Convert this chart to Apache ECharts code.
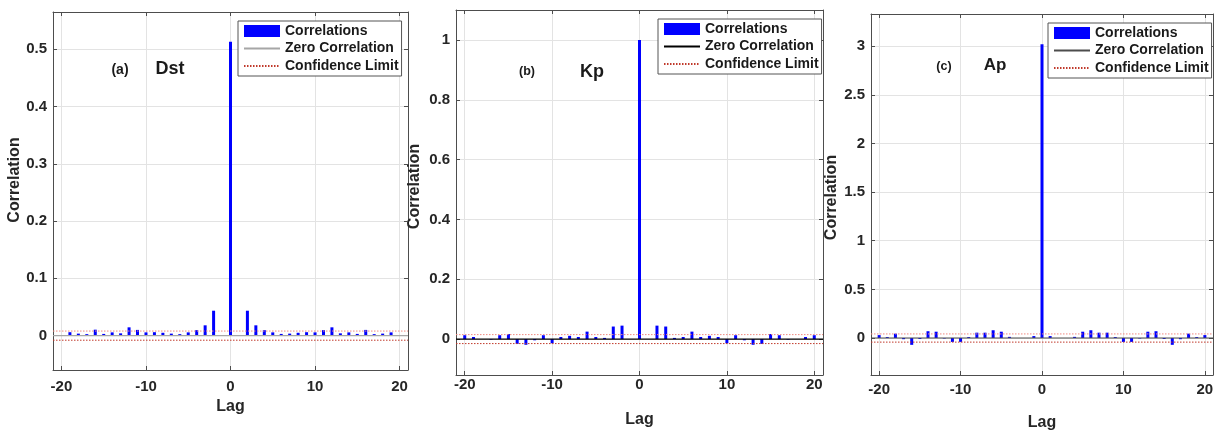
<!DOCTYPE html>
<html>
<head>
<meta charset="utf-8">
<script src="https://cdn.jsdelivr.net/npm/echarts@6/dist/echarts.min.js"></script>
<style>
  html, body { margin: 0; padding: 0; background: #fff; }
  #main { width: 1219px; height: 436px; }
</style>
</head>
<body>
<div id="main"></div>
<script>
  // lag values
  const lagsDst = [-19,-18,-17,-16,-15,-14,-13,-12,-11,-10,-9,-8,-7,-6,-5,-4,-3,-2,-1,0,
                   1,2,3,4,5,6,7,8,9,10,11,12,13,14,15,16,17,18,19];
  const lags20 = [-20,-19,-18,-17,-16,-15,-14,-13,-12,-11,-10,-9,-8,-7,-6,-5,-4,-3,-2,-1,0,
                  1,2,3,4,5,6,7,8,9,10,11,12,13,14,15,16,17,18,19,20];

  // correlations
  const dstCorr = [0.006,0.0035,0.0026,0.0104,0.003,0.0057,0.004,0.0145,0.010,0.0057,0.006,0.005,0.0035,0.0026,0.0057,0.0096,0.018,0.0435,0.001,0.513,
                   0.001,0.0435,0.018,0.0096,0.0057,0.003,0.0035,0.005,0.006,0.0057,0.0096,0.0145,0.004,0.0057,0.003,0.010,0.0026,0.0035,0.0057];
  const kpCorr = [0.013,0.007,0,-0.002,0.013,0.017,-0.016,-0.019,-0.004,0.013,-0.014,0.007,0.011,0.007,0.025,0.007,0.004,0.042,0.045,0,1.0,
                  0,0.045,0.042,0.004,0.007,0.025,0.007,0.011,0.007,-0.014,0.013,-0.004,-0.019,-0.016,0.017,0.013,-0.002,0,0.007,0.013];
  const apCorr = [0.03,0.01,0.045,-0.012,-0.07,-0.01,0.07,0.065,-0.005,-0.04,-0.04,0.01,0.055,0.055,0.08,0.065,0.012,0,0,0.02,3.02,
                  0.02,0,0,0.012,0.065,0.08,0.055,0.055,0.01,-0.04,-0.04,-0.005,0.065,0.07,-0.01,-0.07,-0.012,0.045,0.01,0.03];

  // confidence limits
  const confDst = 0.008;
  const confKp = 0.015;
  const confAp = 0.042;

  const xTicks = [-20, -10, 0, 10, 20];

  const panels = [
    { id: 'a', lags: lagsDst, vals: dstCorr, conf: confDst, ymin: -0.06, ymax: 0.565, split: 5,
      grid: { left: 53, top: 12, width: 355, height: 358 }, zero: '#a6a6a6',
      xMargin: 9, nameGapX: 27, nameGapY: 28, namePad: [0, 0, 0, 22], legend: { left: 238, top: 21 },
      tag: '(a)', tagX: 120, tagY: 70, tagSize: 14, title: 'Dst', titleX: 170, titleY: 69, titleSize: 18 },
    { id: 'b', lags: lags20, vals: kpCorr, conf: confKp, ymin: -0.12, ymax: 1.1, split: 5,
      grid: { left: 456, top: 10, width: 367, height: 365 }, zero: '#000000',
      xMargin: 2, nameGapX: 37, nameGapY: 33, namePad: [0, 0, 0, 12], legend: { left: 658, top: 19 },
      tag: '(b)', tagX: 527, tagY: 72, tagSize: 12.5, title: 'Kp', titleX: 592, titleY: 72, titleSize: 18 },
    { id: 'c', lags: lags20, vals: apCorr, conf: confAp, ymin: -0.38, ymax: 3.33, split: 8,
      grid: { left: 871, top: 14, width: 342, height: 364 }, zero: '#4d4d4d',
      xMargin: 7, nameGapX: 40, nameGapY: 31, namePad: [0, 6, 0, 0], legend: { left: 1048, top: 23 },
      tag: '(c)', tagX: 944, tagY: 67, tagSize: 12.5, title: 'Ap', titleX: 995, titleY: 65, titleSize: 17 }
  ];

  const font = 'Liberation Sans, Arial, sans-serif';
  const axisCol = '#4d4d4d';
  const gridCol = '#e3e3e3';
  const noSymbol = { color: 'rgba(0,0,0,0)', borderWidth: 0, opacity: 0 };

  const grids = [], xAxes = [], yAxes = [], series = [], legends = [], graphics = [];

  panels.forEach((p, i) => {
    grids.push(Object.assign({ containLabel: false }, p.grid));

    xAxes.push({
      type: 'value', gridIndex: i, position: 'bottom', min: -21, max: 21,
      name: 'Lag', nameLocation: 'middle', nameGap: p.nameGapX,
      nameTextStyle: { fontFamily: font, fontWeight: 'bold', fontSize: 16, color: '#262626' },
      axisLine: { show: true, onZero: false, lineStyle: { color: axisCol, width: 1 } },
      axisTick: { show: true, inside: true, length: 4, lineStyle: { color: axisCol } },
      axisLabel: { fontFamily: font, fontWeight: 'bold', fontSize: 15, color: '#262626',
                   margin: p.xMargin, showMinLabel: false, showMaxLabel: false,
                   formatter: v => (xTicks.indexOf(v) >= 0 ? String(v) : '') },
      splitLine: { show: true, lineStyle: { color: gridCol } }
    });
    xAxes.push({
      type: 'value', gridIndex: i, position: 'top', min: -21, max: 21,
      axisLine: { show: true, onZero: false, lineStyle: { color: axisCol, width: 1 } },
      axisTick: { show: true, inside: true, length: 4, lineStyle: { color: axisCol } },
      axisLabel: { show: false }, splitLine: { show: false }
    });
    yAxes.push({
      type: 'value', gridIndex: i, position: 'left', min: p.ymin, max: p.ymax, splitNumber: p.split,
      name: 'Correlation', nameLocation: 'middle', nameGap: p.nameGapY,
      nameTextStyle: { fontFamily: font, fontWeight: 'bold', fontSize: 16, color: '#262626', padding: p.namePad },
      axisLine: { show: true, onZero: false, lineStyle: { color: axisCol, width: 1 } },
      axisTick: { show: true, inside: true, length: 4, lineStyle: { color: axisCol } },
      axisLabel: { fontFamily: font, fontWeight: 'bold', fontSize: 15, color: '#262626',
                   margin: 6, showMinLabel: false, showMaxLabel: false },
      splitLine: { show: true, lineStyle: { color: gridCol } }
    });
    yAxes.push({
      type: 'value', gridIndex: i, position: 'right', min: p.ymin, max: p.ymax, splitNumber: p.split,
      axisLine: { show: true, onZero: false, lineStyle: { color: axisCol, width: 1 } },
      axisTick: { show: true, inside: true, length: 4, lineStyle: { color: axisCol } },
      axisLabel: { show: false }, splitLine: { show: false }
    });

    const xi = 2 * i, yi = 2 * i;
    const nm = s => s + '|' + p.id;

    series.push({
      name: nm('Correlations'), type: 'bar', xAxisIndex: xi, yAxisIndex: yi,
      barWidth: 3, itemStyle: { color: '#0000ff' },
      data: p.lags.map((l, k) => [l, p.vals[k]]), z: 2
    });
    series.push({
      name: nm('Zero Correlation'), type: 'line', xAxisIndex: xi, yAxisIndex: yi,
      symbol: 'none', lineStyle: { color: p.zero, width: 1.2 }, itemStyle: { color: p.zero },
      data: [[-21, 0], [21, 0]], z: 3
    });
    series.push({
      name: nm('Confidence Limit'), type: 'line', xAxisIndex: xi, yAxisIndex: yi,
      symbol: 'none', lineStyle: { color: '#c0392b', width: 1, type: [1.5, 1.5] }, itemStyle: { color: '#c0392b' },
      data: [[-21, -p.conf], [21, -p.conf]], z: 3
    });
    series.push({
      name: nm('Confidence Limit'), type: 'line', xAxisIndex: xi, yAxisIndex: yi,
      symbol: 'none', lineStyle: { color: '#f08a80', width: 1, type: [1.5, 1.5] },
      data: [[-21, p.conf], [21, p.conf]], z: 3
    });

    legends.push({
      left: p.legend.left, top: p.legend.top, orient: 'vertical',
      backgroundColor: '#fff', borderColor: '#555', borderWidth: 1,
      padding: [2, 3, 2, 5], itemGap: 1.5, itemWidth: 36, itemHeight: 12,
      selectedMode: false,
      textStyle: { fontFamily: font, fontWeight: 'bold', fontSize: 14, color: '#1a1a1a', lineHeight: 16 },
      formatter: n => n.split('|')[0],
      data: [
        { name: nm('Correlations'), icon: 'rect' },
        { name: nm('Zero Correlation'), itemStyle: noSymbol },
        { name: nm('Confidence Limit'), itemStyle: noSymbol }
      ]
    });

    graphics.push({
      type: 'text', x: p.tagX, y: p.tagY, z: 100,
      style: { text: p.tag, fill: '#1a1a1a', font: 'bold ' + p.tagSize + 'px ' + font, align: 'center', verticalAlign: 'middle' }
    });
    graphics.push({
      type: 'text', x: p.titleX, y: p.titleY, z: 100,
      style: { text: p.title, fill: '#1a1a1a', font: 'bold ' + p.titleSize + 'px ' + font, align: 'center', verticalAlign: 'middle' }
    });
  });

  const chart = echarts.init(document.getElementById('main'), null, { renderer: 'canvas' });
  chart.setOption({
    animation: false,
    backgroundColor: '#ffffff',
    grid: grids,
    xAxis: xAxes,
    yAxis: yAxes,
    legend: legends,
    series: series,
    graphic: graphics
  });
</script>
</body>
</html>
